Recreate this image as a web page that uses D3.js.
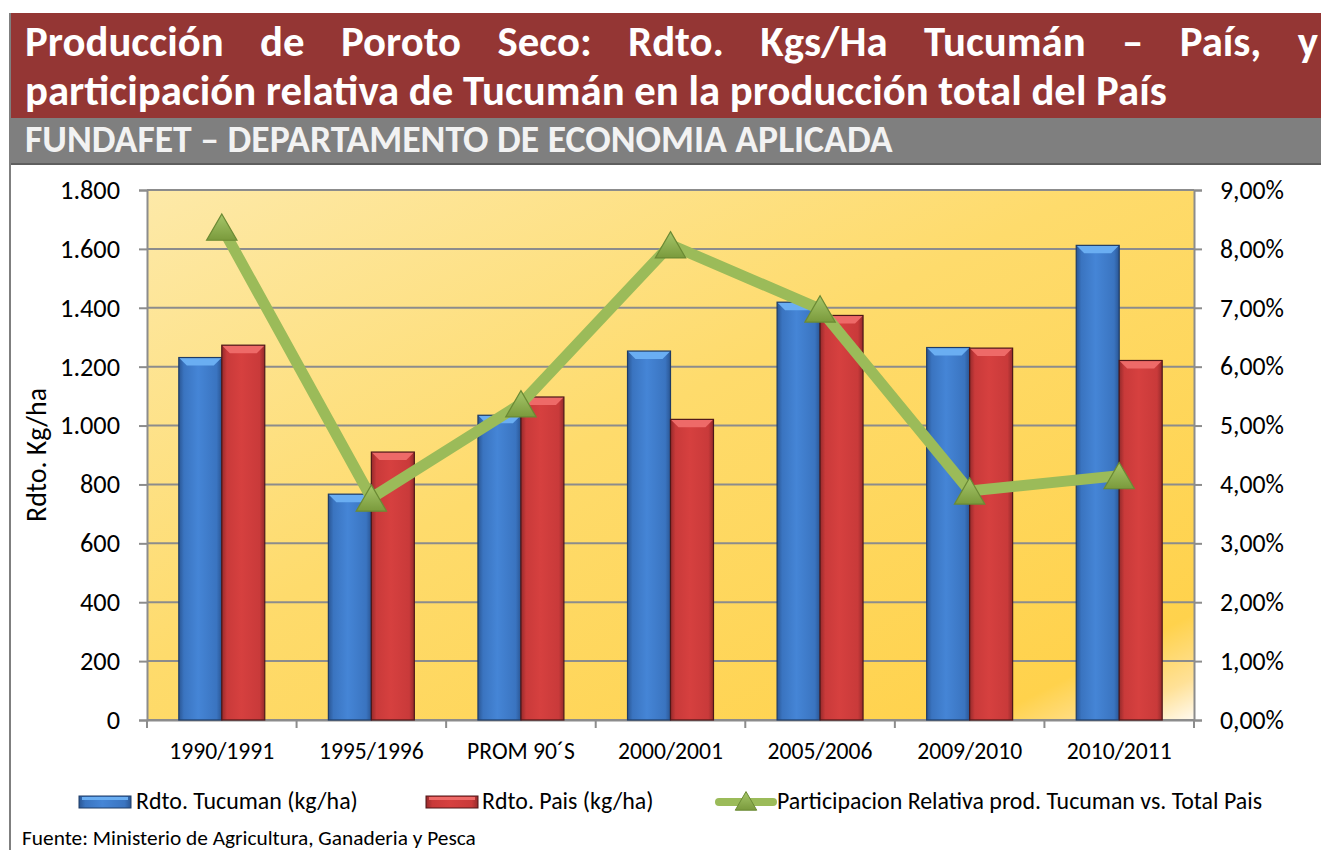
<!DOCTYPE html>
<html>
<head>
<meta charset="utf-8">
<script src="https://cdn.jsdelivr.net/npm/d3@7"></script>
<style>
  body { margin: 0; background: #fff; }
  svg { display: block; font-family: Carlito, Calibri, Lato, "Open Sans", sans-serif; }
</style>
</head>
<body>
<script>
// chart data
var categories = ["1990/1991", "1995/1996", "PROM 90´S", "2000/2001", "2005/2006", "2009/2010", "2010/2011"];
var tucuman = [1231, 767, 1035, 1253, 1419, 1265, 1612];
var pais = [1273, 910, 1097, 1021, 1374, 1263, 1221];
var participacion = [0.0837, 0.0377, 0.0537, 0.0807, 0.0698, 0.0389, 0.0415];
var leftTicks = [0, 200, 400, 600, 800, 1000, 1200, 1400, 1600, 1800];
var rightTicks = [0, 0.01, 0.02, 0.03, 0.04, 0.05, 0.06, 0.07, 0.08, 0.09];
var seriesNames = ["Rdto. Tucuman (kg/ha)", "Rdto. Pais (kg/ha)", "Participacion Relativa prod. Tucuman vs. Total Pais"];

var svg_width = 1321;
var svg_height = 850;

var svg = d3.select("body").append("svg")
  .attr("width", svg_width)
  .attr("height", svg_height);

// scale a text's font so that it spans the given width
function fit(sel, width) {
  var fs = +sel.attr("font-size");
  var w = sel.node().getComputedTextLength();
  var nfs = fs * width / w;
  sel.attr("font-size", nfs);
  return nfs;
}

var defs = svg.append("defs");

// plot background gradient
var bg = defs.append("linearGradient").attr("id", "plotbg")
  .attr("x1", 0).attr("y1", 0).attr("x2", 1).attr("y2", 1);
bg.append("stop").attr("offset", 0).attr("stop-color", "#fde9a8");
bg.append("stop").attr("offset", 0.45).attr("stop-color", "#fedb6c");
bg.append("stop").attr("offset", 0.9).attr("stop-color", "#ffd24c");
bg.append("stop").attr("offset", 0.96).attr("stop-color", "#ffe197");
bg.append("stop").attr("offset", 1).attr("stop-color", "#fffaf0");

// bar side shading
function barGrad(id, light, mid, dark) {
  var g = defs.append("linearGradient").attr("id", id)
    .attr("x1", 0).attr("y1", 0).attr("x2", 1).attr("y2", 0);
  g.append("stop").attr("offset", 0).attr("stop-color", dark);
  g.append("stop").attr("offset", 0.12).attr("stop-color", mid);
  g.append("stop").attr("offset", 0.45).attr("stop-color", light);
  g.append("stop").attr("offset", 0.88).attr("stop-color", mid);
  g.append("stop").attr("offset", 1).attr("stop-color", dark);
}
barGrad("blueGrad", "#4585d6", "#3a74c0", "#2a5694");
barGrad("redGrad", "#d6403f", "#c93a3a", "#962a2b");

var mk = defs.append("linearGradient").attr("id", "mkGrad")
  .attr("x1", 0).attr("y1", 0).attr("x2", 0).attr("y2", 1);
mk.append("stop").attr("offset", 0).attr("stop-color", "#a6c76a");
mk.append("stop").attr("offset", 1).attr("stop-color", "#7a9a3c");

// ---- header banners ----
svg.append("rect").attr("x", 10).attr("y", 13).attr("width", svg_width - 10).attr("height", 105)
  .attr("fill", "#943634");
svg.append("rect").attr("x", 10).attr("y", 118).attr("width", svg_width - 10).attr("height", 46)
  .attr("fill", "#7f7f7f");
svg.append("line").attr("x1", 10).attr("x2", svg_width).attr("y1", 164).attr("y2", 164)
  .attr("stroke", "#5f5f5f").attr("stroke-width", 2);
svg.append("line").attr("x1", 10).attr("x2", 10).attr("y1", 13).attr("y2", svg_height)
  .attr("stroke", "#7f7f7f").attr("stroke-width", 2);

var titleLine1 = "Producción de Poroto Seco: Rdto. Kgs/Ha Tucumán – País, y";
var titleLine2 = "participación relativa de Tucumán en la producción total del País";

// size the title so line 2 ends where it does in the picture
var t2 = svg.append("text")
  .attr("x", 25).attr("y", 105)
  .attr("fill", "#fff").attr("font-weight", "bold").attr("font-size", 34)
  .text(titleLine2);
var fs = fit(t2, 1142);

// justified first line
var words = titleLine1.split(" ");
var wordNodes = words.map(function(w) {
  return svg.append("text").attr("y", 56)
    .attr("fill", "#fff").attr("font-weight", "bold").attr("font-size", fs)
    .text(w);
});
var widths = wordNodes.map(function(n) { return n.node().getComputedTextLength(); });
var gap = (1318 - 25 - d3.sum(widths)) / (words.length - 1);
var cx = 25;
wordNodes.forEach(function(n, i) {
  n.attr("x", cx);
  cx += widths[i] + gap;
});

var sub = svg.append("text")
  .attr("x", 25).attr("y", 152)
  .attr("fill", "#f2f2f2").attr("font-weight", "bold").attr("font-size", 28)
  .text("FUNDAFET – DEPARTAMENTO DE ECONOMIA APLICADA");
fit(sub, 868);

// ---- plot ----
var plotLeft = 147, plotRight = 1194, plotTop = 190, plotBottom = 720;

var x0 = d3.scaleBand().domain(categories).range([plotLeft, plotRight]).paddingInner(0).paddingOuter(0);
var x1 = d3.scaleBand().domain(["tuc", "pais"]).range([0, x0.bandwidth()]).paddingInner(0).paddingOuter(0.74);
var yL = d3.scaleLinear().domain([0, 1800]).range([plotBottom, plotTop]);
var yR = d3.scaleLinear().domain([0, 0.09]).range([plotBottom, plotTop]);

svg.append("rect").attr("x", plotLeft).attr("y", plotTop)
  .attr("width", plotRight - plotLeft).attr("height", plotBottom - plotTop)
  .attr("fill", "url(#plotbg)");

// gridlines
svg.append("g").selectAll("line")
  .data(leftTicks)
  .enter().append("line")
  .attr("x1", plotLeft).attr("x2", plotRight)
  .attr("y1", d => yL(d)).attr("y2", d => yL(d))
  .attr("stroke", "#8c8c8c").attr("stroke-width", 2);

var loc = d3.formatLocale({ decimal: ",", thousands: ".", grouping: [3], currency: ["", ""] });
var fmtInt = loc.format(",d");
var fmtPct = loc.format(".2%");

var yAxisL = d3.axisLeft(yL).tickValues(leftTicks).tickFormat(fmtInt).tickSize(8).tickPadding(19);
var gL = svg.append("g").attr("transform", "translate(" + plotLeft + ",0)").call(yAxisL);
var yAxisR = d3.axisRight(yR).tickValues(rightTicks).tickFormat(fmtPct).tickSize(8).tickPadding(18);
var gR = svg.append("g").attr("transform", "translate(" + plotRight + ",0)").call(yAxisR);
var xAxis = d3.axisBottom(x0).tickSize(0).tickPadding(22);
var gX = svg.append("g").attr("transform", "translate(0," + plotBottom + ")").call(xAxis);

// category boundary ticks
var bounds = categories.map(c => x0(c)).concat([plotRight]);
svg.append("g").selectAll("line")
  .data(bounds)
  .enter().append("line")
  .attr("x1", d => d).attr("x2", d => d)
  .attr("y1", plotBottom).attr("y2", plotBottom + 8)
  .attr("stroke", "#8c8c8c").attr("stroke-width", 2);

[gL, gR, gX].forEach(function(g) {
  g.attr("font-family", null).attr("font-size", null);
  g.selectAll(".domain").attr("stroke", "#8c8c8c").attr("stroke-width", 2);
  g.selectAll(".tick line").attr("stroke", "#8c8c8c").attr("stroke-width", 2);
  g.selectAll("text").attr("font-size", 20).attr("fill", "#000");
});

// match label sizes to the picture
var fsL = fit(gL.selectAll("text").filter(d => d === 1800), 60);
gL.selectAll("text").attr("font-size", fsL);
var fsR = fit(gR.selectAll("text").filter(d => d === 0.09), 64);
gR.selectAll("text").attr("font-size", fsR);
var fsX = fit(gX.selectAll("text").filter(d => d === "1990/1991"), 105);
gX.selectAll("text").attr("font-size", fsX);

// bars
function drawBars(values, key, grad, topCol, edge) {
  var g = svg.append("g");
  var w = x1.bandwidth();
  var bars = g.selectAll("g").data(values).enter().append("g")
    .attr("transform", (d, i) => "translate(" + (x0(categories[i]) + x1(key)) + ",0)");
  bars.append("rect")
    .attr("x", 0).attr("y", d => yL(d))
    .attr("width", w).attr("height", d => yL(0) - yL(d))
    .attr("fill", "url(#" + grad + ")");
  // top bevel
  bars.append("path")
    .attr("d", d => "M0," + yL(d) + "L" + w + "," + yL(d) + "L" + (w - 8) + "," + (yL(d) + 8) + "L8," + (yL(d) + 8) + "Z")
    .attr("fill", topCol);
  bars.append("rect")
    .attr("x", 0).attr("y", d => yL(d))
    .attr("width", w).attr("height", d => yL(0) - yL(d))
    .attr("fill", "none").attr("stroke", edge).attr("stroke-width", 1.2);
}
drawBars(tucuman, "tuc", "blueGrad", "#6aaef2", "#1f3c66");
drawBars(pais, "pais", "redGrad", "#ee6a68", "#4e1718");

// participation line
var line = d3.line()
  .x((d, i) => x0(categories[i]) + x0.bandwidth() / 2)
  .y(d => yR(d));

svg.append("path")
  .datum(participacion)
  .attr("d", line)
  .attr("fill", "none")
  .attr("stroke", "#9bbb59")
  .attr("stroke-width", 11)
  .attr("stroke-linejoin", "round");

// triangle markers, box-centred on the point like Excel does
var triSize = 400;
var triA = Math.sqrt(triSize / (Math.sqrt(3) * 3));
var tri = d3.symbol().type(d3.symbolTriangle).size(triSize);
svg.append("g").selectAll("path")
  .data(participacion)
  .enter().append("path")
  .attr("d", tri)
  .attr("transform", (d, i) => "translate(" + (x0(categories[i]) + x0.bandwidth() / 2) + "," + (yR(d) + triA / 2) + ")")
  .attr("fill", "url(#mkGrad)")
  .attr("stroke", "#6b8a34")
  .attr("stroke-width", 1.2);

// y axis title
var yTitle = svg.append("text")
  .attr("transform", "translate(46," + 455 + ") rotate(-90)")
  .attr("text-anchor", "middle")
  .attr("font-size", 20)
  .text("Rdto. Kg/ha");
fit(yTitle, 134);

// ---- legend ----
var legend = svg.append("g");

var lg1 = legend.append("g").attr("transform", "translate(79,796)");
lg1.append("rect").attr("width", 52).attr("height", 12).attr("fill", "url(#blueGrad)").attr("stroke", "#1f3c66");
lg1.append("rect").attr("x", 3).attr("y", 1).attr("width", 46).attr("height", 3).attr("fill", "#6aaef2");
var lt1 = lg1.append("text").attr("x", 57).attr("y", 13).attr("font-size", 20).text(seriesNames[0]);
var fsLeg = fit(lt1, 222);

var lg2 = legend.append("g").attr("transform", "translate(426,796)");
lg2.append("rect").attr("width", 52).attr("height", 12).attr("fill", "url(#redGrad)").attr("stroke", "#4e1718");
lg2.append("rect").attr("x", 3).attr("y", 1).attr("width", 46).attr("height", 3).attr("fill", "#ee6a68");
lg2.append("text").attr("x", 56).attr("y", 13).attr("font-size", fsLeg).text(seriesNames[1]);

var lg3 = legend.append("g").attr("transform", "translate(716,802)");
lg3.append("line").attr("x1", 3).attr("x2", 57).attr("y1", 0).attr("y2", 0)
  .attr("stroke", "#9bbb59").attr("stroke-width", 8).attr("stroke-linecap", "round");
lg3.append("path").attr("d", d3.symbol().type(d3.symbolTriangle).size(200))
  .attr("transform", "translate(30,2)")
  .attr("fill", "url(#mkGrad)").attr("stroke", "#6b8a34");
lg3.append("text").attr("x", 61).attr("y", 7).attr("font-size", fsLeg).text(seriesNames[2]);

// source note
var src = svg.append("text")
  .attr("x", 22).attr("y", 845)
  .attr("font-size", 17)
  .text("Fuente: Ministerio de Agricultura, Ganaderia y Pesca");
fit(src, 454);
</script>
</body>
</html>
